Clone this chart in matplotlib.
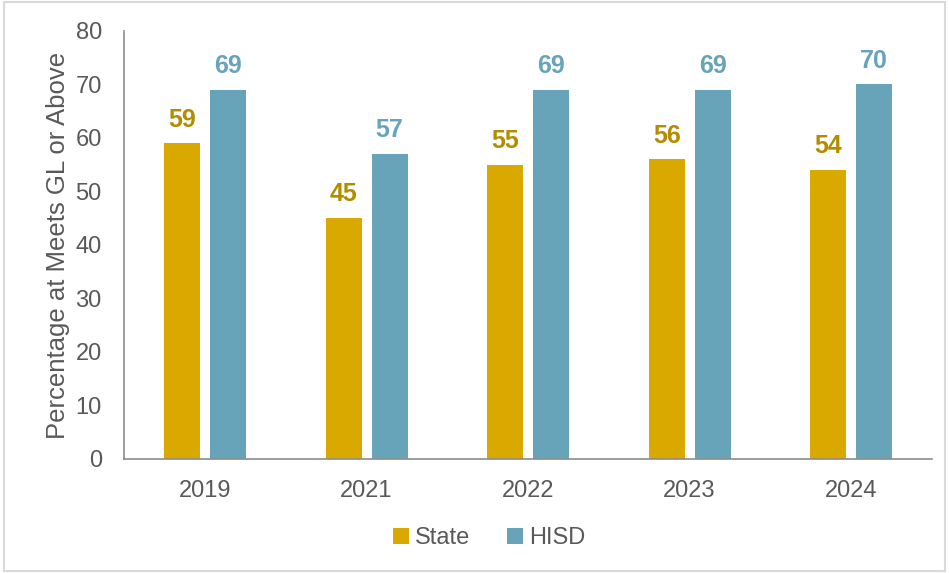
import numpy as np
import matplotlib.pyplot as plt
from matplotlib.patches import Rectangle

plt.rcParams["font.family"] = ["Liberation Sans", "DejaVu Sans"]

# ── Data ───────────────────────────────────────────────────────────────────────
YEARS = ["2019", "2021", "2022", "2023", "2024"]
STATE = [59, 45, 55, 56, 54]
HISD  = [69, 57, 69, 69, 70]

STATE_COLOR = "#DAA900"
HISD_COLOR  = "#67A4BA"
STATE_LABEL = "#B38C00"
HISD_LABEL  = "#67A4BA"
TEXT_GRAY   = "#595959"

# ── Plot ───────────────────────────────────────────────────────────────────────
fig = plt.figure(figsize=(9.49, 5.73), dpi=100)
ax = fig.add_axes([0.1307, 0.199, 0.851, 0.747])

x = np.arange(len(YEARS))
w = 0.225
b1 = ax.bar(x - 0.14, STATE, width=w, color=STATE_COLOR, label="State")
b2 = ax.bar(x + 0.145, HISD, width=w, color=HISD_COLOR, label="HISD")

for bars, vals, col in [(b1, STATE, STATE_LABEL), (b2, HISD, HISD_LABEL)]:
    for bar, v in zip(bars, vals):
        ax.text(bar.get_x() + bar.get_width() / 2, v + 2.2, str(v),
                ha="center", va="bottom", fontsize=18, fontweight="bold", color=col)

ax.set_xlim(-0.5, len(YEARS) - 0.5)
ax.set_ylim(0, 80)
ax.set_yticks(range(0, 81, 10))
ax.set_xticks(x)
ax.set_xticklabels(YEARS)
ax.tick_params(axis="both", length=0, labelsize=17, labelcolor=TEXT_GRAY)
ax.tick_params(axis="x", pad=15)
ax.tick_params(axis="y", pad=16)
ax.set_ylabel("Percentage at Meets GL or Above", fontsize=18.5, color=TEXT_GRAY, labelpad=4)

for side in ["top", "right"]:
    ax.spines[side].set_visible(False)
for side in ["left", "bottom"]:
    ax.spines[side].set_color("#8C8C8C")
    ax.spines[side].set_linewidth(1.2)

ax.legend(loc="upper center", bbox_to_anchor=(0.452, -0.11), ncol=2, frameon=False,
          fontsize=17, handlelength=0.65, handleheight=0.65, handletextpad=0.25,
          columnspacing=1.6, labelcolor=TEXT_GRAY)

# light frame round the whole figure
fig.patches.append(Rectangle((0.004, 0.004), 0.992, 0.992, transform=fig.transFigure,
                             fill=False, edgecolor="#D9D9D9", linewidth=1.5))

plt.savefig("out.png", dpi=100)
plt.close()
